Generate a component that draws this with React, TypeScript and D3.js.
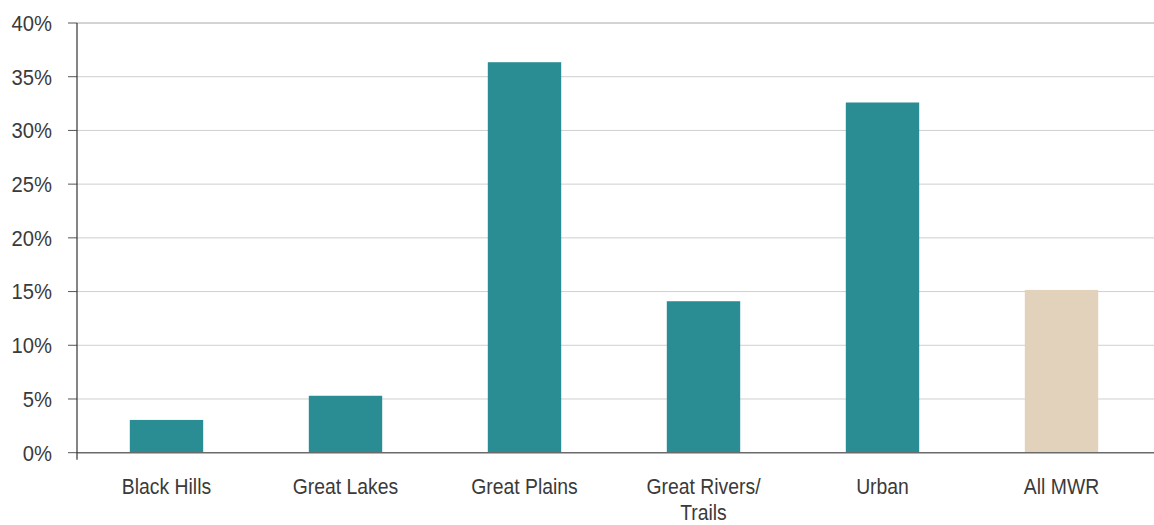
import React from "react";
import * as d3 from "d3";

const categories = ["Black Hills", "Great Lakes", "Great Plains", "Great Rivers/\nTrails", "Urban", "All MWR"];
const values = [3.05, 5.3, 36.35, 14.1, 32.6, 15.15];
const highlight = [false, false, false, false, false, true];
const yTicks = [0, 5, 10, 15, 20, 25, 30, 35, 40];

const W = 1154;
const H = 525;
const margin = { left: 77, right: 3, top: 23, bottom: 72 };
const FONT = "'Liberation Sans', Arial, sans-serif";

export default function App() {
  const x = d3
    .scaleBand<string>()
    .domain(categories)
    .range([margin.left, W - margin.right])
    .paddingInner(0.59)
    .paddingOuter(0.295);
  const y = d3.scaleLinear().domain([0, 40]).range([H - margin.bottom - 0.3, margin.top]);

  return (
    <div style={{ position: "absolute", left: 0, top: 0 }}>
      <svg width={W} height={H} style={{ display: "block", background: "#fff" }}>
        {yTicks.map((t) => (
          <g key={t}>
            {t > 0 && (
              <line
                x1={margin.left}
                x2={W}
                y1={y(t)}
                y2={y(t)}
                stroke={t === 40 ? "#a8a8a8" : "#cfcfcf"}
                strokeWidth={1}
              />
            )}
            <line x1={68} x2={margin.left} y1={y(t)} y2={y(t)} stroke="#555" strokeWidth={1} />
            <text
              transform={`translate(52,${y(t)}) scale(0.92,1)`}
              dy="0.36em"
              textAnchor="end"
              fontFamily={FONT}
              fontSize={22}
              fill="#3a3a3a"
            >
              {t}%
            </text>
          </g>
        ))}
        {categories.map((c, i) => (
          <rect
            key={c}
            x={x(c)}
            y={y(values[i])}
            width={x.bandwidth()}
            height={y(0) - y(values[i])}
            fill={highlight[i] ? "#e2d2bb" : "#2a8d93"}
          />
        ))}
        <line x1={margin.left} x2={W} y1={y(0)} y2={y(0)} stroke="#6a6a6a" strokeWidth={1.5} />
        <line x1={margin.left} x2={margin.left} y1={margin.top} y2={y(0) + 7} stroke="#333" strokeWidth={1.2} />
        {categories.map((c) => {
          const lines = c.split("\n");
          const cx = (x(c) as number) + x.bandwidth() / 2;
          return (
            <text
              key={c}
              transform={`translate(${cx},0) scale(0.88,1)`}
              textAnchor="middle"
              fontFamily={FONT}
              fontSize={22}
              fill="#3a3a3a"
            >
              {lines.map((l, j) => (
                <tspan key={j} x={0} y={494 + j * 26}>
                  {l}
                </tspan>
              ))}
            </text>
          );
        })}
      </svg>
    </div>
  );
}
